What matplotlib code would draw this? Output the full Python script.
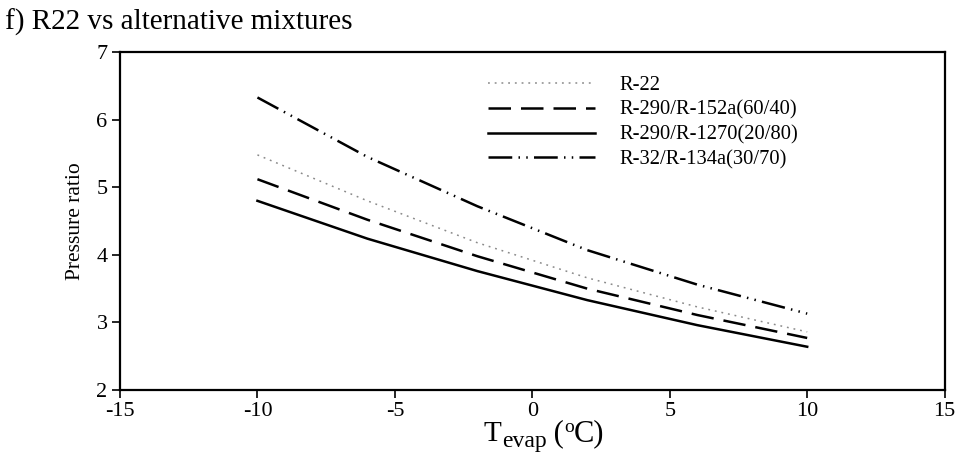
import matplotlib.pyplot as plt
import numpy as np

plt.rcParams['font.family'] = ['Liberation Serif', 'DejaVu Serif']
plt.rcParams['axes.unicode_minus'] = False

# evaporator temperature (C)
t_evap = [-10, -6, -2, 2, 6, 10]

# pressure ratio per refrigerant
r22 = [5.48, 4.80, 4.18, 3.66, 3.23, 2.86]
r290_r152a = [5.12, 4.52, 3.98, 3.50, 3.11, 2.77]
r290_r1270 = [4.80, 4.24, 3.76, 3.33, 2.96, 2.64]
r32_r134a = [6.33, 5.45, 4.72, 4.07, 3.56, 3.13]

labels = ["R-22", "R-290/R-152a(60/40)", "R-290/R-1270(20/80)", "R-32/R-134a(30/70)"]

W, H = 960, 454
fig = plt.figure(figsize=(W / 100, H / 100), dpi=100)
ax = fig.add_axes([0.125, 0.141, 0.859, 0.744])

ax.plot(t_evap, r22, color="#8a8a8a", lw=1.1, dashes=(1.2, 3.2), label=labels[0])
ax.plot(t_evap, r290_r152a, color="black", lw=1.8, dashes=(9, 4), label=labels[1])
ax.plot(t_evap, r290_r1270, color="black", lw=1.8, label=labels[2])
ax.plot(t_evap, r32_r134a, color="black", lw=1.8,
        dashes=(9.5, 2.5, 0.6, 2.5, 0.6, 2.5), label=labels[3])

ax.set_xlim(-15, 15)
ax.set_ylim(2, 7)
ax.set_xticks(np.arange(-15, 16, 5))
ax.set_yticks(np.arange(2, 8, 1))
ax.tick_params(axis="both", direction="out", length=6, width=1.2, labelsize=16,
               top=False, right=False, pad=3)
for sp in ax.spines.values():
    sp.set_linewidth(1.6)

ax.set_ylabel("Pressure ratio", fontsize=15.5, labelpad=8)

ax.legend(loc="upper left", bbox_to_anchor=(0.446, 0.93), frameon=False,
          fontsize=14.8, handlelength=5.2, handletextpad=1.2, labelspacing=0.26,
          borderaxespad=0, borderpad=0)

fig.text(0.005, 0.934, "f) R22 vs alternative mixtures", fontsize=21,
         ha="left", va="baseline")

# x label built from pieces so the subscript/superscript keep the reference proportions
fig.canvas.draw()
renderer = fig.canvas.get_renderer()
xlabel_parts = [("T", 21, 441), ("evap", 17, 447), (" (", 22, 441), ("o", 14, 432), ("C)", 22, 441)]
x_px = 484
for s, size, base in xlabel_parts:
    t = fig.text(x_px / W, 1 - base / H, s, fontsize=size, ha="left", va="baseline")
    x_px += t.get_window_extent(renderer).width

fig.savefig("out.png", dpi=100)
